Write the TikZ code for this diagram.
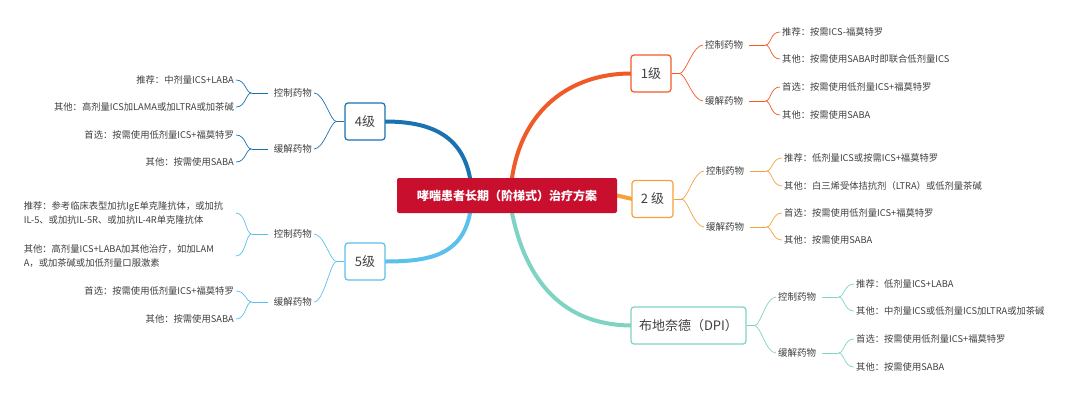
\documentclass[tikz,border=0pt]{standalone}
\usepackage{fontspec}
\setmainfont{Noto Sans CJK SC}
\usetikzlibrary{calc}
\begin{document}
\begin{tikzpicture}[x=1pt,y=-1pt,
  lvl/.style={draw=#1,line width=1.2pt,rounded corners=3pt,fill=white,minimum height=37pt,inner xsep=8pt,font=\fontsize{13}{15}\selectfont,text=black!75},
  mid/.style={font=\fontsize{9.5}{11}\selectfont,text=black!75,inner sep=2pt},
  leaf/.style={font=\fontsize{9.3}{14}\selectfont,text=black!75,inner sep=2pt,align=left},
  cbox/.style={fill=cR,rounded corners=2pt,minimum width=220pt,minimum height=35pt,text=white,font=\bfseries\fontsize{12}{14}\selectfont},
  br/.style={draw=#1,line width=0.7pt},
  trunk/.style={draw=#1,line width=4pt,line cap=round}]
\useasboundingbox (0,0) rectangle (1080,400);
\definecolor{cA}{HTML}{F05A28}\definecolor{cB}{HTML}{F7A13C}\definecolor{cC}{HTML}{7FD3C3}
\definecolor{cD}{HTML}{1A72B0}\definecolor{cE}{HTML}{5BC0EB}\definecolor{cR}{HTML}{C8102E}
\coordinate (t1) at (512,178);\coordinate (t3) at (512,213);\coordinate (t4) at (470,178);\coordinate (t5) at (470,213);
\coordinate (c) at (507,195.5);
\coordinate (n1) at (651,73.5);\coordinate (n2) at (652.5,199);\coordinate (n3) at (688.5,325.5);
\coordinate (n4) at (365,121.5);\coordinate (n5) at (365,261.5);
\draw[trunk=cA] (t1) .. controls (522,110) and (570,73.5) .. ($(n1)+(-20,0)$);
\draw[trunk=cB] ($(c)+(110,0)$) -- ($(n2)+(-20,0)$);
\draw[trunk=cC] (t3) .. controls (530,300) and (580,325.5) .. ($(n3)+(-56,0)$);
\draw[trunk=cD] (t4) .. controls (462,135) and (430,121.5) .. ($(n4)+(20,0)$);
\draw[trunk=cE] (t5) .. controls (462,255) and (430,261.5) .. ($(n5)+(20,0)$);
\node[cbox] (c) at (c) {哮喘患者长期（阶梯式）治疗方案};
\node[lvl=cA,minimum width=40pt] (n1) at (n1) {1级};
\node[lvl=cB,minimum width=41pt] (n2) at (n2) {2 级};
\node[lvl=cC,minimum width=113pt] (n3) at (n3) {布地奈德（DPI）};
\node[lvl=cD,minimum width=40pt] (n4) at (n4) {4级};
\node[lvl=cE,minimum width=40pt] (n5) at (n5) {5级};
% 1级
\node[mid,anchor=west] (m11) at (703,45) {控制药物};
\node[mid,anchor=west] (m12) at (703,101) {缓解药物};
\node[leaf,anchor=west] (l111) at (780,32) {推荐：按需ICS-福莫特罗};
\node[leaf,anchor=west] (l112) at (780,59) {其他：按需使用SABA时即联合低剂量ICS};
\node[leaf,anchor=west] (l121) at (780,87) {首选：按需使用低剂量ICS+福莫特罗};
\node[leaf,anchor=west] (l122) at (780,115) {其他：按需使用SABA};
% 2级
\node[mid,anchor=west] (m21) at (704,171) {控制药物};
\node[mid,anchor=west] (m22) at (704,227) {缓解药物};
\node[leaf,anchor=west] (l211) at (782,158) {推荐：低剂量ICS或按需ICS+福莫特罗};
\node[leaf,anchor=west] (l212) at (782,186) {其他：白三烯受体拮抗剂（LTRA）或低剂量茶碱};
\node[leaf,anchor=west] (l221) at (782,213) {首选：按需使用低剂量ICS+福莫特罗};
\node[leaf,anchor=west] (l222) at (782,240) {其他：按需使用SABA};
% DPI
\node[mid,anchor=west] (m31) at (776,297) {控制药物};
\node[mid,anchor=west] (m32) at (776,353) {缓解药物};
\node[leaf,anchor=west] (l311) at (854,284) {推荐：低剂量ICS+LABA};
\node[leaf,anchor=west] (l312) at (854,311) {其他：中剂量ICS或低剂量ICS加LTRA或加茶碱};
\node[leaf,anchor=west] (l321) at (854,339) {首选：按需使用低剂量ICS+福莫特罗};
\node[leaf,anchor=west] (l322) at (854,367) {其他：按需使用SABA};
% 4级
\node[mid,anchor=east] (m41) at (314,93) {控制药物};
\node[mid,anchor=east] (m42) at (314,149) {缓解药物};
\node[leaf,anchor=east] (l411) at (236,80) {推荐：中剂量ICS+LABA};
\node[leaf,anchor=east] (l412) at (236,107) {其他：高剂量ICS加LAMA或加LTRA或加茶碱};
\node[leaf,anchor=east] (l421) at (236,135) {首选：按需使用低剂量ICS+福莫特罗};
\node[leaf,anchor=east] (l422) at (236,162) {其他：按需使用SABA};
% 5级
\node[mid,anchor=east] (m51) at (314,234) {控制药物};
\node[mid,anchor=east] (m52) at (314,302) {缓解药物};
\node[leaf,anchor=east,text width=210pt] (l511) at (236,213) {推荐：参考临床表型加抗IgE单克隆抗体，或加抗\\IL-5、或加抗IL-5R、或加抗IL-4R单克隆抗体};
\node[leaf,anchor=east,text width=210pt] (l512) at (236,256) {其他：高剂量ICS+LABA加其他治疗，如加LAM\\A，或加茶碱或加低剂量口服激素};
\node[leaf,anchor=east] (l521) at (236,291) {首选：按需使用低剂量ICS+福莫特罗};
\node[leaf,anchor=east] (l522) at (236,319) {其他：按需使用SABA};
% right brackets
\foreach \p/\a/\b/\col in {n1/m11/m12/cA, n2/m21/m22/cB, n3/m31/m32/cC}{
  \draw[br=\col] (\p.east) -- ++(8,0) coordinate (q);
  \draw[br=\col] (q) .. controls ($(q)+(6,0)$) and ($(\a.west)+(-10,0)$) .. (\a.west);
  \draw[br=\col] (q) .. controls ($(q)+(6,0)$) and ($(\b.west)+(-10,0)$) .. (\b.west);}
\foreach \p/\a/\b/\col in {m11/l111/l112/cA, m12/l121/l122/cA, m21/l211/l212/cB, m22/l221/l222/cB, m31/l311/l312/cC, m32/l321/l322/cC}{
  \draw[br=\col] (\p.east) ++(4,0) -- ++(16,0) coordinate (q);
  \draw[br=\col] (q) .. controls ($(q)+(6,0)$) and ($(\a.west)+(-10,0)$) .. (\a.west);
  \draw[br=\col] (q) .. controls ($(q)+(6,0)$) and ($(\b.west)+(-10,0)$) .. (\b.west);}
% left brackets
\foreach \p/\a/\b/\col in {n4/m41/m42/cD, n5/m51/m52/cE}{
  \draw[br=\col] (\p.west) -- ++(-8,0) coordinate (q);
  \draw[br=\col] (q) .. controls ($(q)+(-6,0)$) and ($(\a.east)+(10,0)$) .. (\a.east);
  \draw[br=\col] (q) .. controls ($(q)+(-6,0)$) and ($(\b.east)+(10,0)$) .. (\b.east);}
\foreach \p/\a/\b/\col in {m41/l411/l412/cD, m42/l421/l422/cD, m51/l511/l512/cE, m52/l521/l522/cE}{
  \draw[br=\col] (\p.west) ++(-4,0) -- ++(-16,0) coordinate (q);
  \draw[br=\col] (q) .. controls ($(q)+(-6,0)$) and ($(\a.east)+(10,0)$) .. (\a.east);
  \draw[br=\col] (q) .. controls ($(q)+(-6,0)$) and ($(\b.east)+(10,0)$) .. (\b.east);}
\end{tikzpicture}
\end{document}
